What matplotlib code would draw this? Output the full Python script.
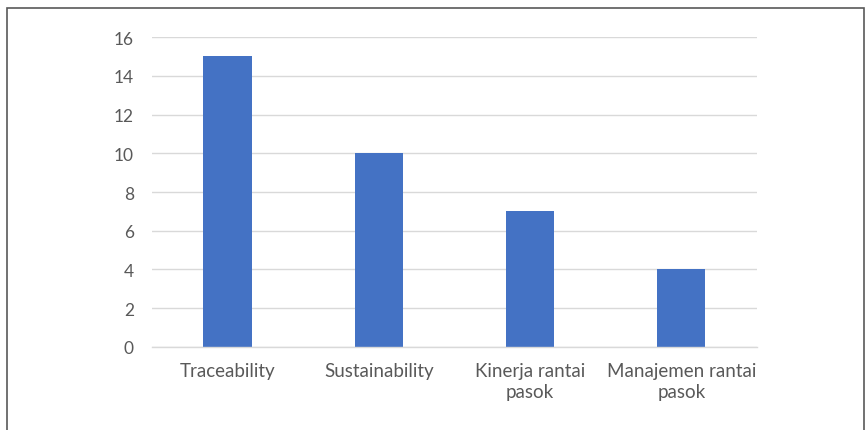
import matplotlib.pyplot as plt
from matplotlib.patches import Rectangle

categories = ['Traceability', 'Sustainability', 'Kinerja rantai\npasok',
              'Manajemen rantai\npasok']
values = [15, 10, 7, 4]
yticks = [0, 2, 4, 6, 8, 10, 12, 14, 16]

plt.rcParams['font.family'] = ['Lato', 'DejaVu Sans']

fig = plt.figure(figsize=(8.68, 4.31), dpi=100)
ax = fig.add_axes([0.175, 0.1926, 0.697, 0.7192])

ax.bar(range(len(values)), values, width=0.32, color='#4472C4', zorder=3)
ax.set_xlim(-0.5, len(values) - 0.5)
ax.set_ylim(0, 16)
ax.set_yticks(yticks)
ax.set_xticks(range(len(categories)))
ax.set_xticklabels(categories, linespacing=1.25, fontsize=13.5)
ax.grid(axis='y', color='#D9D9D9', linewidth=1, zorder=0)
for s in ['top', 'right', 'left']:
    ax.spines[s].set_visible(False)
ax.spines['bottom'].set_color('#D9D9D9')
ax.spines['bottom'].set_linewidth(1)
ax.spines['bottom'].set_zorder(4)
ax.tick_params(axis='both', length=0, labelcolor='#595959')
ax.tick_params(axis='y', pad=13, labelsize=12.5)
ax.tick_params(axis='x', pad=11)

# outer chart border
fig.patches.append(Rectangle((7 / 868, -0.1), 857 / 868, 1 - 9 / 431 + 0.1,
                             transform=fig.transFigure, fill=False,
                             edgecolor='#595959', linewidth=1.2))

fig.savefig('out.png', dpi=100)
